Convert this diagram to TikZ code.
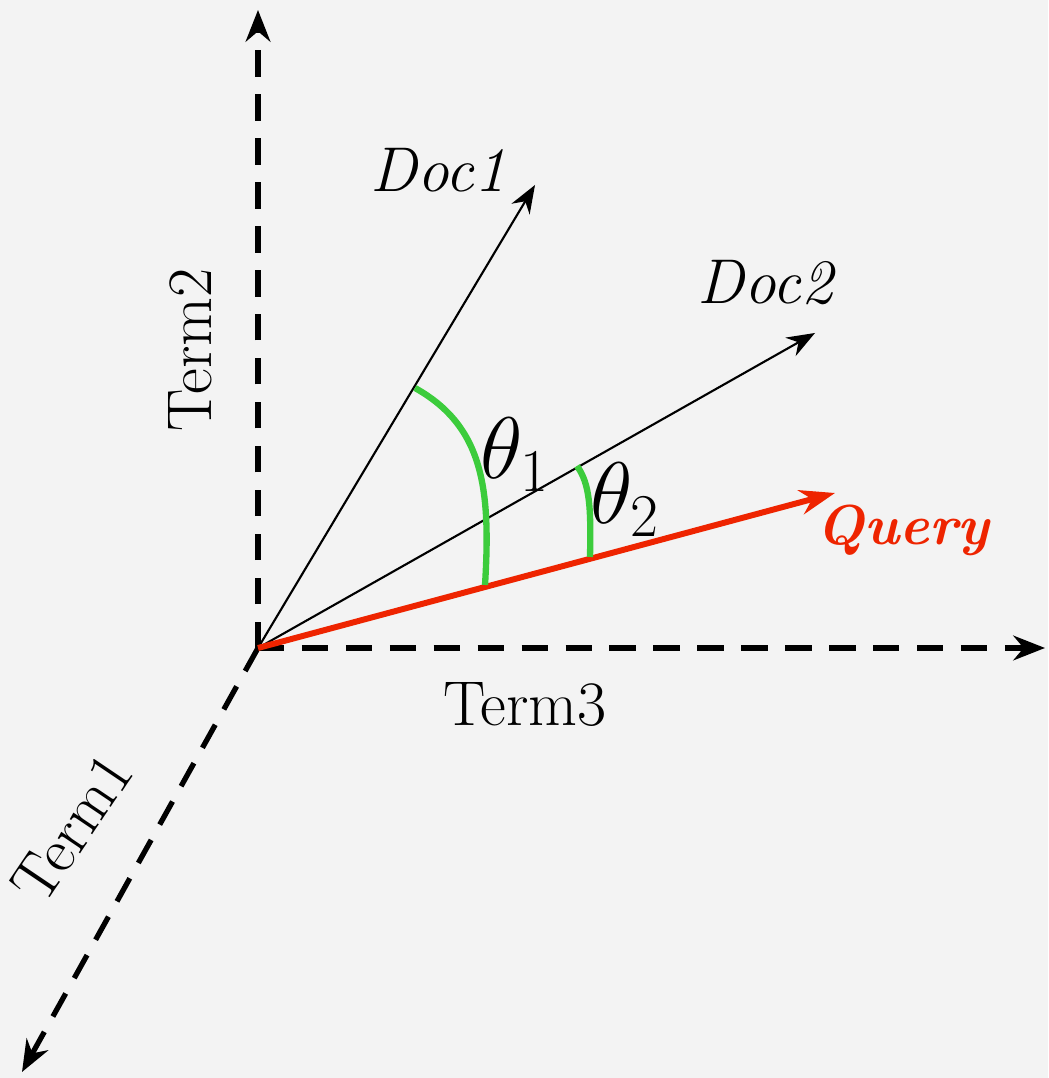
\documentclass[tikz,border=0pt]{standalone}
\usetikzlibrary{arrows.meta}

\definecolor{bggray}{RGB}{243,243,243}
\definecolor{queryred}{RGB}{238,36,0}
\definecolor{anglegreen}{RGB}{60,204,60}

\tikzset{
    axis/.style={line width=1.5pt, dash pattern=on 7.5pt off 5pt, -{Stealth[length=9pt, width=7pt]}},
    docvec/.style={line width=0.6pt, -{Stealth[length=8pt, width=6pt]}},
    queryvec/.style={line width=1.7pt, queryred, -{Stealth[length=10pt, width=7pt]}},
    anglearc/.style={line width=1.8pt, anglegreen},
    lbl/.style={font=\fontsize{18}{20}\selectfont}
}

\begin{document}
\begin{tikzpicture}

    % background
    \fill[bggray] (-2.58,-4.30) rectangle (7.90,6.48);
    \useasboundingbox (-2.58,-4.30) rectangle (7.90,6.48);

    \coordinate (origin) at (0,0);
    \coordinate (t1) at (-2.36,-4.24);
    \coordinate (t2) at (0,6.38);
    \coordinate (t3) at (7.87,0);
    \coordinate (d1) at (2.77,4.63);
    \coordinate (d2) at (5.57,3.15);
    \coordinate (q) at (5.77,1.55);

    % axes
    \draw[axis] (origin) -- (t2);
    \draw[axis] (origin) -- (t3);
    \draw[axis] (origin) -- (t1);
    \node[lbl, rotate=90] (term2) at (-0.68,2.98) {Term2};
    \node[lbl] (term3) at (2.67,-0.57) {Term3};
    \node[lbl, rotate=56] (term1) at (-1.86,-1.80) {Term1};

    % documents
    \draw[docvec] (origin) -- (d1);
    \node[lbl, font=\fontsize{18}{20}\selectfont\itshape] (doc1) at (1.80,4.78) {Doc1};
    \draw[docvec] (origin) -- (d2);
    \node[lbl, font=\fontsize{18}{20}\selectfont\itshape] (doc2) at (5.07,3.65) {Doc2};

    % query
    \draw[queryvec] (origin) -- (q);
    \node[font=\fontsize{16}{18}\selectfont\bfseries\itshape, text=queryred] (query) at (6.45,1.18) {Query};

    % theta1
    \draw[anglearc] (1.57,2.60) .. controls (2.25,2.22) and (2.33,1.60) .. (2.27,0.63);
    \node[font=\fontsize{24}{26}\selectfont] (th1) at (2.57,1.93) {$\theta_1$};

    % theta2
    \draw[anglearc] (3.19,1.82) .. controls (3.32,1.64) and (3.33,1.40) .. (3.32,0.91);
    \node[font=\fontsize{24}{26}\selectfont] (th2) at (3.67,1.48) {$\theta_2$};

\end{tikzpicture}
\end{document}
